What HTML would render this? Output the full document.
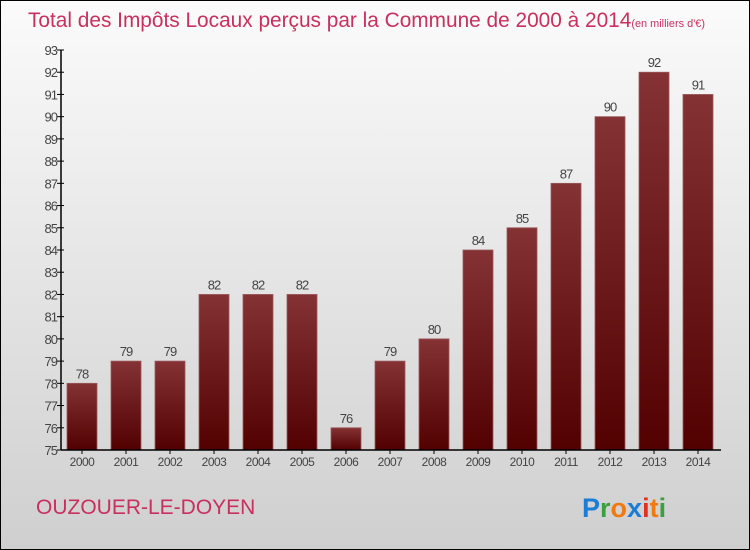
<!DOCTYPE html>
<html><head><meta charset="utf-8"><style>
body{margin:0;width:750px;height:550px;overflow:hidden}
svg{display:block;font-family:"Liberation Sans",sans-serif}
</style></head><body>
<svg id="c" width="750" height="550">
<defs>
<linearGradient id="bg" x1="0" y1="0" x2="0" y2="1"><stop offset="0" stop-color="#fbfbfb"/><stop offset="1" stop-color="#cfcfcf"/></linearGradient>
<linearGradient id="bar" x1="0" y1="0" x2="0" y2="1"><stop offset="0" stop-color="#853235"/><stop offset="1" stop-color="#520000"/></linearGradient>
</defs>
<rect x="0.5" y="0.5" width="749" height="549" fill="url(#bg)" stroke="#000"/>
<text x="28" y="27" font-size="21" textLength="677" lengthAdjust="spacingAndGlyphs" fill="#c8305f">Total des Impôts Locaux perçus par la Commune de 2000 à 2014<tspan font-size="11">(en milliers d'€)</tspan></text>
<g id="yaxis"></g>
<g id="bars"></g>
<g id="xaxis"></g>
<text x="36" y="514" font-size="21" fill="#c8305f">OUZOUER-LE-DOYEN</text>
<g font-size="27" font-weight="bold">
<text x="582" y="517"><tspan fill="#1a7ed6">P</tspan><tspan fill="#3aa040">r</tspan><tspan fill="#f07a10">o</tspan><tspan fill="#1a7ed6">x</tspan><tspan fill="#e03020">i</tspan><tspan fill="#f07a10">t</tspan><tspan fill="#3aa040">i</tspan></text>
</g>
</svg>
<script>
const categories=["2000","2001","2002","2003","2004","2005","2006","2007","2008","2009","2010","2011","2012","2013","2014"];
const values=[78,79,79,82,82,82,76,79,80,84,85,87,90,92,91];
const yTicks=[75,76,77,78,79,80,81,82,83,84,85,86,87,88,89,90,91,92,93];
const NS="http://www.w3.org/2000/svg";
const yMin=75,yMax=93,plotTop=50,plotBot=450,plotLeft=61,plotRight=721;
const yScale=v=>plotBot-(v-yMin)/(yMax-yMin)*(plotBot-plotTop);
const step=44,bw=30;
const xScale=i=>plotLeft+21+i*step;
function mk(t,a,p,txt){const e=document.createElementNS(NS,t);for(const k in a)e.setAttribute(k,a[k]);if(txt!==undefined)e.textContent=txt;p.appendChild(e);return e;}
const ya=document.getElementById('yaxis'),ba=document.getElementById('bars'),xa=document.getElementById('xaxis');
const al=mk('line',{x1:plotLeft,y1:plotTop,x2:plotLeft,y2:plotBot,stroke:'#000','stroke-width':1.5},ya);


yTicks.forEach(t=>{
 const l=mk('line',{x1:plotLeft-4,y1:yScale(t),x2:plotLeft+3,y2:yScale(t),stroke:'#000'},ya);
 
 
 const tx=mk('text',{x:plotLeft-4,y:yScale(t)+5,'font-size':13,fill:'#444','text-anchor':'end','letter-spacing':'-1'},ya,t);
 
 
});
const xl=mk('line',{x1:plotLeft,y1:plotBot,x2:plotRight,y2:plotBot,stroke:'#000','stroke-width':1.5},xa);


categories.forEach((c,i)=>{
 const v=values[i],cx=xScale(i);
 const r=mk('rect',{x:cx-bw/2,y:yScale(v),width:bw,height:plotBot-yScale(v),fill:'url(#bar)',stroke:'#9a5a5c','stroke-width':0.8},ba);
 
 
 const lb=mk('text',{x:cx,y:yScale(v)-5,'font-size':13,fill:'#444','text-anchor':'middle','letter-spacing':'-1'},ba,v);
 
 
 const tk=mk('line',{x1:cx,y1:plotBot,x2:cx,y2:plotBot+4,stroke:'#000'},xa);
 
 
 const xt=mk('text',{x:cx,y:plotBot+16,'font-size':12,fill:'#444','text-anchor':'middle','letter-spacing':'-0.5'},xa,c);
 
 
});
</script>
</body></html>
